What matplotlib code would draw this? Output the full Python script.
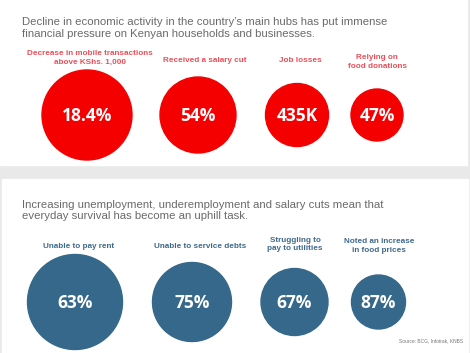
import matplotlib.pyplot as plt
from matplotlib.patches import Circle, Rectangle

# data
top_title = ("Decline in economic activity in the country\u2019s main hubs has put immense\n"
             "financial pressure on Kenyan households and businesses.")
top_labels = ["Decrease in mobile transactions\nabove KShs. 1,000", "Received a salary cut",
              "Job losses", "Relying on\nfood donations"]
top_values = ["18.4%", "54%", "435K", "47%"]

bottom_title = ("Increasing unemployment, underemployment and salary cuts mean that\n"
                "everyday survival has become an uphill task.")
bottom_labels = ["Unable to pay rent", "Unable to service debts",
                 "Struggling to\npay to utilities", "Noted an increase\nin food prices"]
bottom_values = ["63%", "75%", "67%", "87%"]

source = "Source: BCG, Infotrak, KNBS"

# layout (pixels)
W, H = 470, 353
top_x = [87, 198, 297, 377]
top_r = [45, 38, 31.5, 26]
top_cy = 115
top_label_x = [90, 204.5, 300, 377]
top_label_y = [58, 61, 61, 62]

bot_x = [75, 192, 294.5, 378.5]
bot_r = [47.5, 39.5, 33.5, 27]
bot_cy = 302
bot_label_x = [78.5, 200.5, 295, 379]
bot_label_y = [246, 246, 244.5, 246]

red = "#f50000"
red_text = "#e9505a"
blue = "#35688a"
blue_text = "#3e6a8a"
grey_text = "#6a6a6a"

fig = plt.figure(figsize=(W / 100, H / 100), dpi=100)
ax = fig.add_axes([0, 0, 1, 1])
ax.set_xlim(0, W)
ax.set_ylim(H, 0)
ax.set_aspect("equal")
ax.axis("off")

# background panels
ax.add_patch(Rectangle((0, 0), W, H, color="#e9e9e9", zorder=0))
ax.add_patch(Rectangle((0, 0), 467, 165, color="white", zorder=1))
ax.add_patch(Rectangle((1.5, 179), 466, H - 179, color="white", zorder=1))

ax.text(22, 28, top_title, fontsize=8.2, color=grey_text, va="center", ha="left",
        family="Liberation Sans", linespacing=1.18, zorder=3)
ax.text(22, 210.5, bottom_title, fontsize=8.2, color=grey_text, va="center", ha="left",
        family="Liberation Sans", linespacing=1.18, zorder=3)

for i in range(len(top_values)):
    ax.add_patch(Circle((top_x[i], top_cy), top_r[i], color=red, zorder=2))
    ax.text(top_x[i], top_cy + 1, top_values[i], fontsize=12.5, fontweight="bold",
            color="white", ha="center", va="center", family="Open Sans", zorder=3)
    ax.text(top_label_x[i], top_label_y[i], top_labels[i], fontsize=5.9,
            fontweight="bold", color=red_text, ha="center", va="center",
            family="Liberation Sans", linespacing=1.3, zorder=3)

for i in range(len(bottom_values)):
    ax.add_patch(Circle((bot_x[i], bot_cy), bot_r[i], color=blue, zorder=2))
    ax.text(bot_x[i], bot_cy + 1, bottom_values[i], fontsize=12.5, fontweight="bold",
            color="white", ha="center", va="center", family="Open Sans", zorder=3)
    ax.text(bot_label_x[i], bot_label_y[i], bottom_labels[i], fontsize=5.9,
            fontweight="bold", color=blue_text, ha="center", va="center",
            family="Liberation Sans", linespacing=1.35, zorder=3)

ax.text(463, 341, source, fontsize=3.5, color="#777777", ha="right", va="center",
        family="Liberation Sans", zorder=3)

fig.savefig("out.png", dpi=100)
